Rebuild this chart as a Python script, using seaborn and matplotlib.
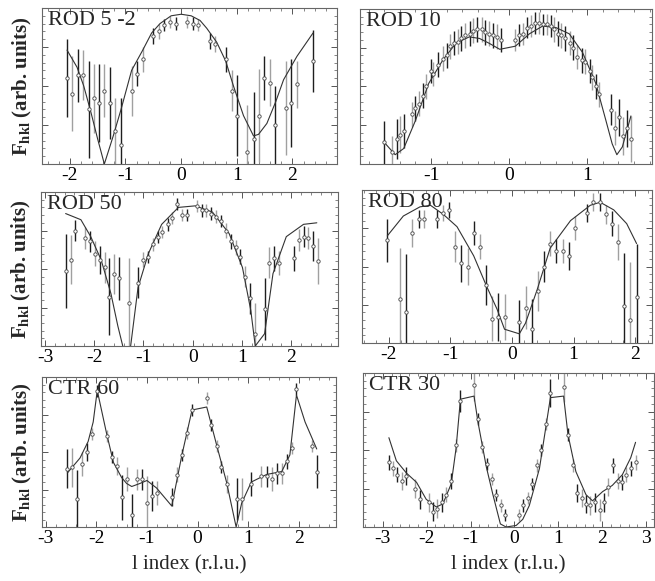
import matplotlib
matplotlib.use("Agg")
import matplotlib.pyplot as plt
from matplotlib.ticker import MultipleLocator, NullFormatter
import seaborn as sns

# ---- ROD 5 -2 ----
rod52_l = [-2.05, -1.96, -1.86, -1.77, -1.66, -1.56, -1.47, -1.38, -1.28, -1.18, -1.08,
           -0.89, -0.79, -0.69, -0.50, -0.40, -0.30, -0.20, -0.10, 0.10, 0.21, 0.31,
           0.51, 0.61, 0.81, 0.91, 1.00, 1.19, 1.30, 1.40, 1.49, 1.59, 1.69, 1.88,
           1.98, 2.08, 2.37]
rod52_f = [0.55, 0.45, 0.57, 0.57, 0.35, 0.42, 0.39, 0.47, 0.39, 0.21, 0.12,
           0.47, 0.58, 0.67, 0.82, 0.85, 0.89, 0.91, 0.90, 0.91, 0.90, 0.89,
           0.79, 0.77, 0.67, 0.47, 0.31, 0.08, 0.16, 0.31, 0.55, 0.52, 0.25, 0.36,
           0.39, 0.51, 0.66]
rod52_err = [0.25, 0.24, 0.17, 0.16, 0.31, 0.22, 0.25, 0.17, 0.23, 0.21, 0.30,
             0.16, 0.08, 0.08, 0.05, 0.05, 0.04, 0.04, 0.04, 0.04, 0.04, 0.04,
             0.05, 0.05, 0.08, 0.13, 0.26, 0.30, 0.30, 0.30, 0.14, 0.15, 0.25, 0.30,
             0.28, 0.15, 0.20]
rod52_fit_l = [-2.05, -1.87, -1.75, -1.62, -1.50, -1.38, -1.22, -1.08, -0.89, -0.69, -0.53,
               -0.38, -0.18, 0.0, 0.18, 0.34, 0.46, 0.64, 0.80, 0.94, 1.12, 1.30, 1.39,
               1.54, 1.70, 1.84, 2.08, 2.37]
rod52_fit_f = [0.73, 0.62, 0.50, 0.33, 0.16, 0.0, 0.18, 0.35, 0.60, 0.73, 0.84,
               0.90, 0.95, 0.96, 0.95, 0.92, 0.87, 0.78, 0.66, 0.50, 0.31, 0.18, 0.19,
               0.26, 0.40, 0.54, 0.69, 0.84]

# ---- ROD 10 ----
rod10_l = [-1.60, -1.50, -1.44, -1.40, -1.35, -1.25, -1.20, -1.16, -1.10, -1.06, -1.00,
           -0.97, -0.91, -0.85, -0.80, -0.76, -0.71, -0.65, -0.61, -0.56, -0.50, -0.46,
           -0.41, -0.35, -0.31, -0.26, -0.21, -0.16, -0.11, 0.08, 0.13, 0.18, 0.23,
           0.28, 0.33, 0.38, 0.43, 0.48, 0.53, 0.58, 0.62, 0.67, 0.72, 0.78, 0.82,
           0.87, 0.93, 0.97, 1.03, 1.06, 1.11, 1.15, 1.31, 1.35, 1.41, 1.46, 1.51, 1.56]
rod10_f = [0.14, 0.08, 0.16, 0.19, 0.21, 0.32, 0.36, 0.39, 0.44, 0.50, 0.60,
           0.58, 0.64, 0.68, 0.70, 0.76, 0.78, 0.79, 0.81, 0.83, 0.84, 0.86,
           0.87, 0.87, 0.85, 0.84, 0.83, 0.82, 0.80, 0.80, 0.83, 0.84, 0.88,
           0.89, 0.91, 0.91, 0.90, 0.90, 0.89, 0.87, 0.84, 0.83, 0.81, 0.78, 0.75,
           0.69, 0.67, 0.66, 0.60, 0.56, 0.50, 0.45, 0.35, 0.23, 0.30, 0.18, 0.23, 0.16]
rod10_err = [0.14, 0.10, 0.13, 0.12, 0.11, 0.08, 0.08, 0.08, 0.08, 0.08, 0.08,
             0.08, 0.08, 0.08, 0.08, 0.08, 0.08, 0.08, 0.08, 0.08, 0.08, 0.08,
             0.08, 0.08, 0.08, 0.08, 0.08, 0.08, 0.08, 0.07, 0.07, 0.07, 0.07,
             0.07, 0.07, 0.07, 0.07, 0.07, 0.07, 0.08, 0.08, 0.08, 0.08, 0.08, 0.08,
             0.08, 0.08, 0.08, 0.08, 0.08, 0.08, 0.08, 0.10, 0.11, 0.12, 0.12, 0.12, 0.15]
rod10_fit_l = [-1.60, -1.46, -1.35, -1.20, -1.03, -0.85, -0.68, -0.51, -0.38, -0.26, -0.12,
               0.08, 0.26, 0.43, 0.60, 0.77, 0.94, 1.11, 1.24, 1.32, 1.38, 1.45, 1.56]
rod10_fit_f = [0.14, 0.06, 0.10, 0.28, 0.52, 0.67, 0.78, 0.82, 0.81, 0.78, 0.74,
               0.76, 0.84, 0.89, 0.88, 0.84, 0.72, 0.52, 0.28, 0.13, 0.06, 0.11, 0.31]

# ---- ROD 50 ----
rod50_l = [-2.58, -2.48, -2.38, -2.18, -2.09, -1.99, -1.89, -1.79, -1.70, -1.59, -1.49,
           -1.30, -1.11, -1.00, -0.90, -0.80, -0.71, -0.62, -0.51, -0.42, -0.32, -0.22,
           -0.12, 0.08, 0.18, 0.28, 0.38, 0.48, 0.58, 0.67, 0.77, 0.87, 0.97, 1.07,
           1.16, 1.27, 1.47, 1.55, 1.65, 1.75, 2.05, 2.15, 2.25, 2.34, 2.44, 2.54]
rod50_f = [0.49, 0.56, 0.75, 0.70, 0.68, 0.60, 0.56, 0.51, 0.32, 0.47, 0.44,
           0.28, 0.41, 0.56, 0.58, 0.66, 0.71, 0.74, 0.79, 0.83, 0.92, 0.85,
           0.85, 0.91, 0.88, 0.88, 0.86, 0.84, 0.81, 0.75, 0.68, 0.64, 0.58, 0.45,
           0.31, 0.08, 0.24, 0.54, 0.57, 0.54, 0.57, 0.69, 0.71, 0.70, 0.65, 0.55]
rod50_err = [0.24, 0.16, 0.07, 0.07, 0.07, 0.08, 0.09, 0.10, 0.25, 0.13, 0.14,
             0.29, 0.10, 0.05, 0.04, 0.04, 0.04, 0.04, 0.04, 0.04, 0.04, 0.04,
             0.04, 0.04, 0.04, 0.04, 0.04, 0.04, 0.04, 0.05, 0.05, 0.05, 0.05, 0.07,
             0.10, 0.20, 0.20, 0.10, 0.08, 0.08, 0.08, 0.07, 0.07, 0.07, 0.10, 0.15]
rod50_fit_l = [-2.58, -2.27, -2.07, -1.86, -1.66, -1.52, -1.42, -1.35, -1.26, -1.11, -0.90,
               -0.63, -0.29, 0.05, 0.40, 0.74, 1.01, 1.18, 1.27, 1.46, 1.63, 1.90,
               2.25, 2.52]
rod50_fit_f = [0.86, 0.82, 0.71, 0.56, 0.34, 0.13, 0.0, -0.1, 0.0, 0.38, 0.60,
               0.79, 0.90, 0.91, 0.87, 0.73, 0.51, 0.23, 0.0, 0.08, 0.47, 0.71,
               0.79, 0.80]

# ---- ROD 80 ----
rod80_l = [-2.02, -1.81, -1.72, -1.62, -1.51, -1.42, -1.22, -1.12, -1.02, -0.92, -0.82,
           -0.72, -0.62, -0.52, -0.42, -0.32, -0.23, -0.12, 0.12, 0.22, 0.32, 0.42,
           0.52, 0.62, 0.72, 0.82, 0.92, 1.02, 1.22, 1.32, 1.42, 1.52, 1.62, 1.72,
           1.82, 1.92, 2.02]
rod80_f = [0.67, 0.29, 0.20, 0.72, 0.81, 0.81, 0.81, 0.85, 0.87, 0.63, 0.52,
           0.50, 0.72, 0.63, 0.38, 0.16, 0.17, 0.17, 0.14, 0.23, 0.09, 0.34,
           0.50, 0.65, 0.60, 0.60, 0.57, 0.75, 0.85, 0.92, 0.92, 0.84, 0.78, 0.66,
           0.24, 0.15, 0.30]
rod80_err = [0.14, 0.33, 0.38, 0.09, 0.06, 0.06, 0.06, 0.05, 0.05, 0.10, 0.12,
             0.12, 0.08, 0.08, 0.13, 0.15, 0.16, 0.15, 0.14, 0.14, 0.20, 0.13,
             0.10, 0.08, 0.08, 0.08, 0.09, 0.08, 0.06, 0.06, 0.06, 0.06, 0.08, 0.12,
             0.35, 0.38, 0.35]
rod80_fit_l = [-2.02, -1.76, -1.49, -1.32, -1.11, -0.89, -0.62, -0.41, -0.24, -0.12, 0.12,
               0.22, 0.41, 0.62, 0.95, 1.27, 1.43, 1.65, 1.86, 2.02]
rod80_fit_f = [0.70, 0.83, 0.89, 0.90, 0.84, 0.76, 0.57, 0.37, 0.22, 0.09, 0.06,
               0.13, 0.35, 0.62, 0.80, 0.90, 0.92, 0.87, 0.78, 0.65]

# ---- CTR 60 ----
ctr60_l = [-2.57, -2.47, -2.38, -2.28, -2.18, -2.08, -1.98, -1.78, -1.68, -1.59, -1.49,
           -1.39, -1.30, -1.20, -1.10, -1.00, -0.90, -0.81, -0.51, -0.41, -0.31, -0.21,
           -0.11, 0.18, 0.27, 0.38, 0.47, 0.57, 0.77, 0.87, 1.06, 1.26, 1.36, 1.46,
           1.56, 1.66, 1.76, 1.86, 1.95, 2.25, 2.35]
ctr60_f = [0.39, 0.40, 0.19, 0.42, 0.50, 0.62, 0.91, 0.61, 0.47, 0.41, 0.20,
           0.32, 0.08, 0.32, 0.32, 0.16, 0.21, 0.23, 0.20, 0.35, 0.48, 0.63,
           0.78, 0.86, 0.68, 0.54, 0.40, 0.29, 0.19, 0.19, 0.29, 0.34, 0.34, 0.32,
           0.36, 0.36, 0.44, 0.53, 0.92, 0.54, 0.37]
ctr60_err = [0.13, 0.13, 0.19, 0.08, 0.06, 0.04, 0.04, 0.04, 0.04, 0.06, 0.15,
             0.08, 0.14, 0.07, 0.07, 0.18, 0.10, 0.08, 0.06, 0.05, 0.04, 0.04,
             0.04, 0.04, 0.04, 0.04, 0.04, 0.06, 0.14, 0.14, 0.08, 0.07, 0.07, 0.08,
             0.07, 0.07, 0.05, 0.04, 0.04, 0.04, 0.11]
ctr60_fit_l = [-2.57, -2.32, -2.16, -2.06, -1.98, -1.80, -1.66, -1.50, -1.40, -1.30, -1.14,
               -1.00, -0.81, -0.51, -0.31, -0.11, 0.18, 0.38, 0.57, 0.76, 0.87, 1.06,
               1.36, 1.66, 1.82, 1.95, 2.12, 2.35]
ctr60_fit_f = [0.36, 0.46, 0.57, 0.70, 0.91, 0.63, 0.43, 0.33, 0.29, 0.27, 0.29,
               0.31, 0.26, 0.14, 0.48, 0.78, 0.80, 0.54, 0.30, 0.0, 0.16, 0.30,
               0.35, 0.37, 0.48, 0.88, 0.70, 0.52]

# ---- CTR 30 ----
ctr30_l = [-2.86, -2.77, -2.67, -2.56, -2.46, -2.26, -2.16, -1.95, -1.85, -1.76, -1.65,
           -1.55, -1.45, -1.34, -1.23, -0.92, -0.83, -0.73, -0.62, -0.52, -0.42, -0.31,
           -0.21, 0.10, 0.20, 0.30, 0.41, 0.52, 0.61, 0.72, 0.82, 1.12, 1.22, 1.33,
           1.42, 1.53, 1.63, 1.73, 1.83, 1.94, 2.04, 2.14, 2.24, 2.35, 2.45, 2.55,
           2.65, 2.76]
ctr30_f = [0.42, 0.38, 0.34, 0.30, 0.33, 0.25, 0.18, 0.16, 0.10, 0.12, 0.16,
           0.21, 0.30, 0.53, 0.82, 0.92, 0.70, 0.52, 0.41, 0.31, 0.21, 0.14,
           0.08, 0.08, 0.14, 0.19, 0.28, 0.40, 0.50, 0.67, 0.87, 0.91, 0.60, 0.40,
           0.22, 0.19, 0.15, 0.14, 0.16, 0.11, 0.16, 0.26, 0.40, 0.30, 0.29, 0.34,
           0.38, 0.42]
ctr30_err = [0.05, 0.05, 0.05, 0.06, 0.06, 0.06, 0.06, 0.06, 0.06, 0.06, 0.06,
             0.05, 0.05, 0.04, 0.07, 0.10, 0.04, 0.04, 0.04, 0.04, 0.04, 0.04,
             0.04, 0.04, 0.04, 0.04, 0.04, 0.04, 0.04, 0.04, 0.09, 0.10, 0.04, 0.04,
             0.06, 0.06, 0.06, 0.06, 0.06, 0.07, 0.06, 0.06, 0.05, 0.05, 0.05, 0.05,
             0.05, 0.05]
ctr30_fit_l = [-2.86, -2.69, -2.46, -2.23, -2.01, -1.78, -1.63, -1.44, -1.33, -1.23, -0.92,
               -0.83, -0.64, -0.49, -0.32, -0.19, 0.04, 0.19, 0.34, 0.57, 0.82, 1.12,
               1.22, 1.40, 1.63, 1.78, 2.01, 2.23, 2.46, 2.65, 2.76]
ctr30_fit_f = [0.58, 0.43, 0.35, 0.29, 0.18, 0.13, 0.15, 0.28, 0.51, 0.83, 0.85,
               0.68, 0.39, 0.21, 0.02, 0.0, 0.01, 0.05, 0.14, 0.38, 0.84, 0.85,
               0.60, 0.36, 0.21, 0.17, 0.23, 0.27, 0.34, 0.45, 0.55]

W, H = 655, 581

panels = [
    ("ROD 5 -2", rod52_l, rod52_f, rod52_err, rod52_fit_l, rod52_fit_f, (42, 337, 8, 164), (-2.5, 2.8)),
    ("ROD 10", rod10_l, rod10_f, rod10_err, rod10_fit_l, rod10_fit_f, (360, 652, 9, 164), (-1.91, 1.83)),
    ("ROD 50", rod50_l, rod50_f, rod50_err, rod50_fit_l, rod50_fit_f, (41, 338, 192, 346), (-3.08, 2.95)),
    ("ROD 80", rod80_l, rod80_f, rod80_err, rod80_fit_l, rod80_fit_f, (362, 652, 190, 343), (-2.43, 2.27)),
    ("CTR 60", ctr60_l, ctr60_f, ctr60_err, ctr60_fit_l, ctr60_fit_f, (42, 336, 377, 527), (-3.07, 2.73)),
    ("CTR 30", ctr30_l, ctr30_f, ctr30_err, ctr30_fit_l, ctr30_fit_f, (363, 654, 373, 527), (-3.45, 3.18)),
]

sns.set_style("ticks")
plt.rcParams['font.family'] = ['Liberation Serif', 'DejaVu Serif']
plt.rcParams['axes.unicode_minus'] = False
plt.rcParams['mathtext.fontset'] = 'custom'
plt.rcParams['mathtext.rm'] = 'Liberation Serif'
plt.rcParams['mathtext.bf'] = 'Liberation Serif:bold'
plt.rcParams['mathtext.it'] = 'Liberation Serif:italic'

fig = plt.figure(figsize=(W / 100, H / 100), dpi=100)

for i, (name, l, f, err, fit_l, fit_f, box, xlim) in enumerate(panels):
    x0, x1, y0, y1 = box
    ax = fig.add_axes([x0 / W, 1 - y1 / H, (x1 - x0) / W, (y1 - y0) / H])

    # error bars alternate between dark and light grey
    for k, col in enumerate(['#1e1e1e', '#a0a0a0']):
        ax.errorbar(l[k::2], f[k::2], yerr=err[k::2], fmt='none',
                    ecolor=col, elinewidth=1.0, capsize=0, zorder=2)
    sns.lineplot(x=fit_l, y=fit_f, ax=ax, sort=False, estimator=None,
                 color='#333333', linewidth=0.8, zorder=3)
    sns.scatterplot(x=l, y=f, ax=ax, marker='o', s=6, color='white',
                    edgecolor='#444444', linewidth=0.6, zorder=4)

    ax.set_xlim(*xlim)
    ax.set_ylim(0, 1)
    ax.xaxis.set_major_locator(MultipleLocator(1))
    ax.xaxis.set_minor_locator(MultipleLocator(0.2))
    ax.yaxis.set_major_locator(MultipleLocator(0.25))
    ax.yaxis.set_minor_locator(MultipleLocator(0.05))
    ax.yaxis.set_major_formatter(NullFormatter())
    ax.tick_params(which='both', direction='in', top=True, right=True,
                   colors='#555555', labelcolor='black', labelsize=14, pad=2)
    ax.tick_params(which='major', length=4, width=0.7)
    ax.tick_params(which='minor', length=2, width=0.5)
    for sp in ax.spines.values():
        sp.set_color('#666666')
        sp.set_linewidth(0.8)

    ax.text(0.02, 0.98, name, transform=ax.transAxes, ha='left', va='top',
            fontsize=16, zorder=5)

    if i % 2 == 0:
        ax.set_ylabel(r'$\mathbf{F_{hkl}}$ (arb. units)', fontsize=15,
                      fontweight='bold', labelpad=4)
    else:
        ax.set_ylabel('')
    if i >= 4:
        ax.set_xlabel('l index (r.l.u.)', fontsize=15, labelpad=6)
    else:
        ax.set_xlabel('')

fig.savefig('out.png', dpi=100)
